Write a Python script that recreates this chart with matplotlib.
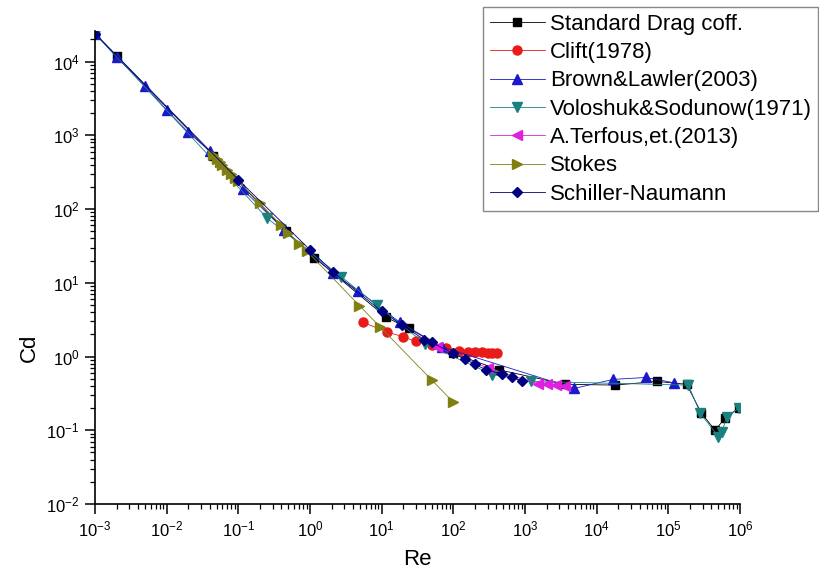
import matplotlib
matplotlib.use("Agg")
import matplotlib.pyplot as plt
from matplotlib.ticker import LogLocator, NullFormatter, FixedLocator

plt.rcParams['font.family'] = ['Liberation Sans', 'DejaVu Sans']

# ---- data ----
std_re = [0.001, 0.002, 0.045, 0.46, 1.15, 11.6, 24, 100, 435, 3600, 18000, 70000, 180000, 290000, 450000, 620000, 960000]
std_cd = [24000, 12000, 530, 50, 22, 3.4, 2.4, 1.1, 0.66, 0.42, 0.41, 0.46, 0.42, 0.17, 0.10, 0.147, 0.20]

clift_re = [5.5, 12, 20, 30, 50, 80, 120, 160, 200, 250, 300, 350, 410]
clift_cd = [2.9, 2.15, 1.85, 1.6, 1.45, 1.3, 1.2, 1.17, 1.15, 1.14, 1.13, 1.13, 1.13]

brown_re = [0.001, 0.002, 0.005, 0.01, 0.02, 0.04, 0.115, 0.44, 2.1, 4.7, 18, 69, 4900, 17000, 49000, 120000]
brown_cd = [24000, 11500, 4700, 2200, 1100, 610, 185, 52, 13.5, 7.8, 2.9, 1.35, 0.37, 0.49, 0.52, 0.44]

volo_re = [0.001, 0.25, 2.75, 8.5, 40, 350, 1200, 190000, 280000, 500000, 560000, 650000, 960000]
volo_cd = [24000, 76, 12, 5.0, 1.5, 0.57, 0.46, 0.41, 0.17, 0.082, 0.095, 0.15, 0.20]

terf_re = [60, 300, 1500, 2000, 2700, 3600]
terf_cd = [1.35, 0.70, 0.43, 0.42, 0.41, 0.40]

stokes_re = [0.045, 0.05, 0.055, 0.06, 0.07, 0.08, 0.09, 0.1, 0.2, 0.4, 0.5, 0.7, 0.9, 4.9, 9.6, 50, 100]
stokes_cd = [533, 480, 436, 400, 343, 300, 267, 240, 120, 60, 48, 34, 27, 4.9, 2.5, 0.48, 0.24]

sn_re = [0.001, 0.1, 1.0, 2.1, 10, 19, 39, 50, 100, 145, 200, 290, 470, 650, 900]
sn_cd = [24000, 250, 28, 14, 4.1, 2.7, 1.7, 1.55, 1.1, 0.92, 0.78, 0.66, 0.58, 0.52, 0.47]

x_ticks = [1e-3, 1e-2, 1e-1, 1e0, 1e1, 1e2, 1e3, 1e4, 1e5, 1e6]
y_ticks = [1e-2, 1e-1, 1e0, 1e1, 1e2, 1e3, 1e4]

series = [
    ("Standard Drag coff.", std_re, std_cd, "#000000", "s", 5.5),
    ("Clift(1978)", clift_re, clift_cd, "#e81a1a", "o", 6.5),
    ("Brown&Lawler(2003)", brown_re, brown_cd, "#1a1acc", "^", 7),
    ("Voloshuk&Sodunow(1971)", volo_re, volo_cd, "#1a8080", "v", 7),
    ("A.Terfous,et.(2013)", terf_re, terf_cd, "#e020e0", "<", 7),
    ("Stokes", stokes_re, stokes_cd, "#808010", ">", 7),
    ("Schiller-Naumann", sn_re, sn_cd, "#000080", "D", 5.5),
]

fig = plt.figure(figsize=(8.19, 5.76), dpi=100)
ax = fig.add_axes([95/819, 1-504/576, (740-95)/819, (504-31)/576])

for label, x, y, c, m, ms in series:
    ax.plot(x, y, color=c, marker=m, markersize=ms, lw=0.6, label=label,
            markeredgecolor=c, markerfacecolor=c)

ax.set_xscale('log')
ax.set_yscale('log')
ax.set_xlim(1e-3, 1e6)
ax.set_ylim(1e-2, 2.6e4)

for s in ['top', 'right']:
    ax.spines[s].set_visible(False)
for s in ['left', 'bottom']:
    ax.spines[s].set_linewidth(1.2)

ax.xaxis.set_major_locator(FixedLocator(x_ticks))
ax.yaxis.set_major_locator(FixedLocator(y_ticks))
ax.xaxis.set_minor_locator(LogLocator(base=10, subs=range(2, 10), numticks=20))
ax.yaxis.set_minor_locator(LogLocator(base=10, subs=range(2, 10), numticks=20))
ax.xaxis.set_minor_formatter(NullFormatter())
ax.yaxis.set_minor_formatter(NullFormatter())
ax.tick_params(which='major', direction='out', length=7, width=1.1, labelsize=12, pad=4)
ax.tick_params(which='minor', direction='out', length=3.5, width=0.9)

ax.set_xlabel("Re", fontsize=16)
ax.set_ylabel("Cd", fontsize=16)
ax.xaxis.set_label_coords(0.5, -0.095)
ax.yaxis.set_label_coords(-0.085, 0.33)

leg = fig.legend(loc='upper left', bbox_to_anchor=(483/819, 1-7/576), fontsize=16,
                 frameon=True, fancybox=False, edgecolor='#888888', framealpha=1,
                 handlelength=2.5, handletextpad=0.2, labelspacing=0.33, borderpad=0.3,
                 borderaxespad=0)
leg.get_frame().set_linewidth(1.0)

fig.savefig("out.png", dpi=100)
